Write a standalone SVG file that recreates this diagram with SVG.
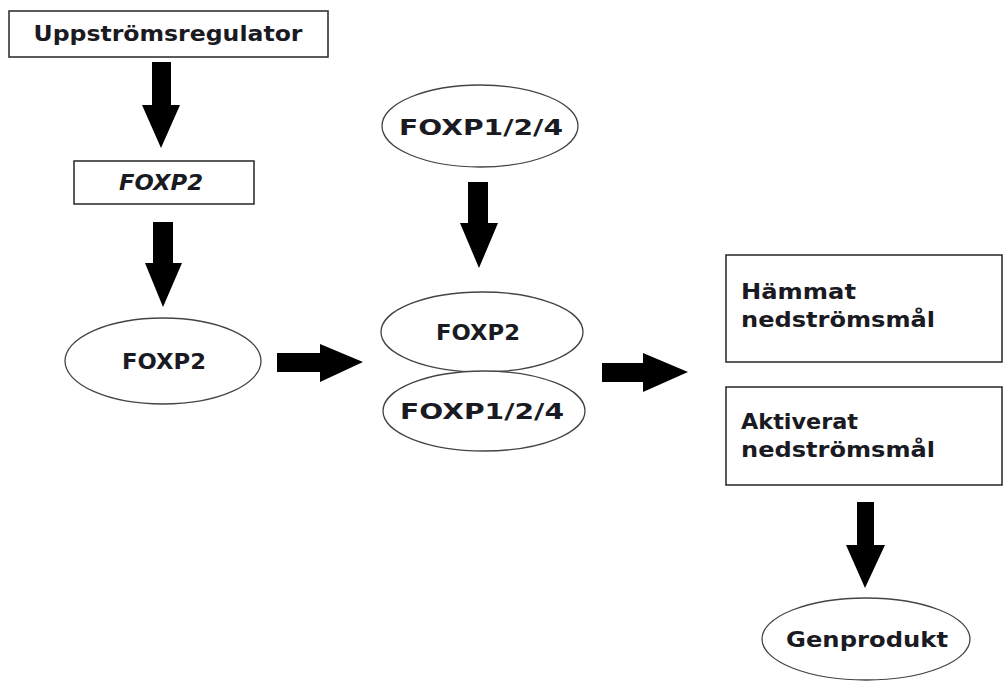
<svg xmlns="http://www.w3.org/2000/svg" width="1003" height="682" viewBox="0 0 1003 682">
<style>
.box{fill:#fff;stroke:#333;stroke-width:1.6}
.ell{fill:#fff;stroke:#444;stroke-width:1.3}
.t{font-family:"DejaVu Sans","Verdana",sans-serif;font-weight:bold;font-size:21.5px;fill:#1a1a22}
.c{text-anchor:middle}
.arr{fill:#000}
</style>
<rect width="1003" height="682" fill="#fff"/>
<g id="n_upstream"><rect class="box" x="9" y="11" width="319" height="46"/><text class="t c" x="168" y="41" textLength="269" lengthAdjust="spacingAndGlyphs">Uppströmsregulator</text></g>
<g id="n_foxp2_gene"><rect class="box" x="74" y="161" width="180" height="43"/><text class="t c" x="161" y="190" font-style="italic" textLength="84" lengthAdjust="spacingAndGlyphs">FOXP2</text></g>
<g id="n_foxp2_protein"><ellipse class="ell" cx="163" cy="361" rx="98" ry="43"/><text class="t c" x="164" y="369" textLength="84" lengthAdjust="spacingAndGlyphs">FOXP2</text></g>
<g id="n_foxp124_top"><ellipse class="ell" cx="480" cy="126" rx="98" ry="41"/><text class="t c" x="481" y="135" textLength="164" lengthAdjust="spacingAndGlyphs">FOXP1/2/4</text></g>
<g id="n_foxp2_dimer"><ellipse class="ell" cx="482" cy="332" rx="101" ry="40"/><text class="t c" x="478" y="340" textLength="84" lengthAdjust="spacingAndGlyphs">FOXP2</text></g>
<g id="n_foxp124_dimer"><ellipse class="ell" cx="484" cy="411" rx="101" ry="40"/><text class="t c" x="482" y="419" textLength="164" lengthAdjust="spacingAndGlyphs">FOXP1/2/4</text></g>
<g id="n_inhibited"><rect class="box" x="726" y="255" width="276" height="107"/><text class="t" x="741" y="299" textLength="115" lengthAdjust="spacingAndGlyphs">Hämmat</text><text class="t" x="741" y="327" textLength="194" lengthAdjust="spacingAndGlyphs">nedströmsmål</text></g>
<g id="n_activated"><rect class="box" x="726" y="387" width="276" height="98"/><text class="t" x="741" y="429" textLength="117" lengthAdjust="spacingAndGlyphs">Aktiverat</text><text class="t" x="741" y="457" textLength="194" lengthAdjust="spacingAndGlyphs">nedströmsmål</text></g>
<g id="n_product"><ellipse class="ell" cx="866" cy="639" rx="104" ry="41"/><text class="t c" x="867" y="647" textLength="162" lengthAdjust="spacingAndGlyphs">Genprodukt</text></g>
<g id="connectors">
<polygon class="arr" points="152,62 171,62 171,105 180,105 161,148 142,105 152,105"/>
<polygon class="arr" points="153,222 173,222 173,263 182,263 163,307 145,263 153,263"/>
<polygon class="arr" points="277,353 320,353 320,344 363,362 320,382 320,372 277,372"/>
<polygon class="arr" points="468,182 488,182 488,223 498,223 479,268 460,223 468,223"/>
<polygon class="arr" points="602,363 643,363 643,353 688,372 643,392 643,382 602,382"/>
<polygon class="arr" points="857,502 874,502 874,545 885,545 865,588 846,545 857,545"/>
</g>
</svg>
